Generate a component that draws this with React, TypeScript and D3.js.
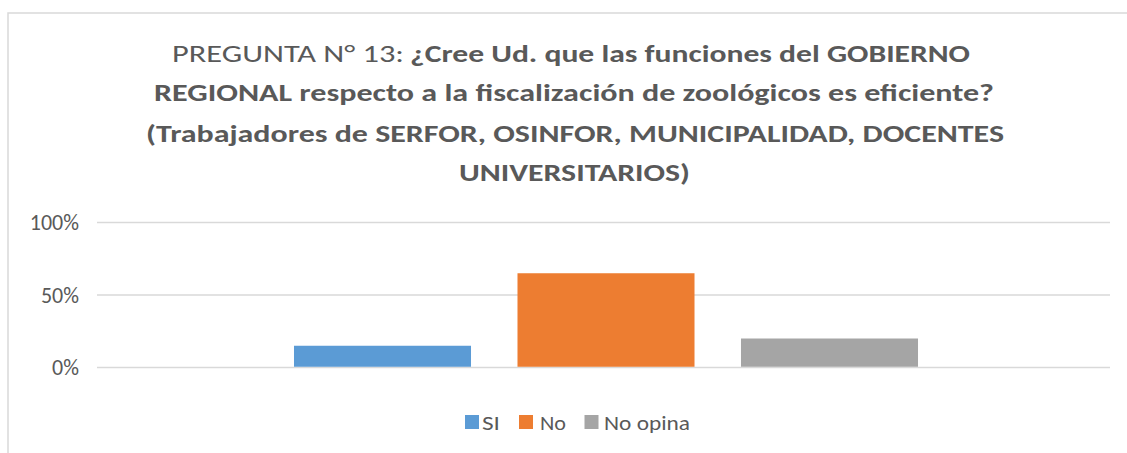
import React from "react";
import * as d3 from "d3";

const series = ["SI", "No", "No opina"];
const values = [0.15, 0.65, 0.2];
const colors = ["#5B9BD5", "#ED7D31", "#A5A5A5"];
const yTicks = [0, 0.5, 1];
const titleNormal = "PREGUNTA N° 13: ";
const titleBoldLines = [
  "¿Cree Ud. que las funciones del GOBIERNO",
  "REGIONAL respecto a la fiscalización de zoológicos es eficiente?",
  "(Trabajadores de SERFOR, OSINFOR, MUNICIPALIDAD, DOCENTES",
  "UNIVERSITARIOS)",
];

const W = 1127;
const H = 453;
const FONT = "Carlito, Lato, 'Open Sans', sans-serif";
const TEXT = "#595959";
const GRID = "#D9D9D9";

export default function App() {
  const plotLeft = 97;
  const plotRight = 1110;
  const y = d3.scaleLinear().domain([0, 1]).range([367.5, 222.5]);
  const x = d3
    .scaleBand<string>()
    .domain(series)
    .range([270.75, 941.25])
    .paddingInner(0.208)
    .paddingOuter(0.104);
  const fmt = d3.format(".0%");

  const lineLayout = [
    { by: 62, x0: 410, len: 560 },
    { by: 101, x0: 154, len: 840 },
    { by: 141.5, x0: 146, len: 858 },
    { by: 180.5, x0: 459, len: 231 },
  ];

  const legendItems = [
    { sx: 465, tx: 482, tl: 18 },
    { sx: 519, tx: 540, tl: 26 },
    { sx: 584.5, tx: 604, tl: 86 },
  ];

  return (
    <svg
      width={W}
      height={H}
      style={{ position: "absolute", left: 0, top: 0, background: "#fff" }}
      fontFamily={FONT}
    >
      <rect x={0} y={0} width={W} height={H} fill="#fff" />
      <rect
        x={8}
        y={13}
        width={W + 10}
        height={H + 10}
        fill="none"
        stroke={GRID}
        strokeWidth={1.5}
      />
      <text
        x={172}
        y={62}
        fontSize={25}
        fill={TEXT}
        textLength={232}
        lengthAdjust="spacingAndGlyphs"
      >
        {titleNormal}
      </text>
      {titleBoldLines.map((t, i) => (
        <text
          key={i}
          x={lineLayout[i].x0}
          y={lineLayout[i].by}
          fontSize={25}
          fontWeight="bold"
          fill={TEXT}
          textLength={lineLayout[i].len}
          lengthAdjust="spacingAndGlyphs"
        >
          {t}
        </text>
      ))}
      {yTicks.map((t) => (
        <g key={t}>
          <line
            x1={plotLeft}
            x2={plotRight}
            y1={y(t)}
            y2={y(t)}
            stroke={GRID}
            strokeWidth={1.5}
          />
          <text
            x={79}
            y={y(t)}
            dy="0.36em"
            textAnchor="end"
            fontSize={22}
            fill={TEXT}
          >
            {fmt(t)}
          </text>
        </g>
      ))}
      {series.map((s, i) => (
        <rect
          key={s}
          x={x(s)}
          width={x.bandwidth()}
          y={y(values[i])}
          height={y(0) - y(values[i]) - 0.75}
          fill={colors[i]}
        />
      ))}
      {series.map((s, i) => (
        <g key={s}>
          <rect
            x={legendItems[i].sx}
            y={415}
            width={14}
            height={14}
            fill={colors[i]}
          />
          <text
            x={legendItems[i].tx}
            y={429.5}
            fontSize={20}
            fill={TEXT}
            textLength={legendItems[i].tl}
            lengthAdjust="spacingAndGlyphs"
          >
            {s}
          </text>
        </g>
      ))}
    </svg>
  );
}
